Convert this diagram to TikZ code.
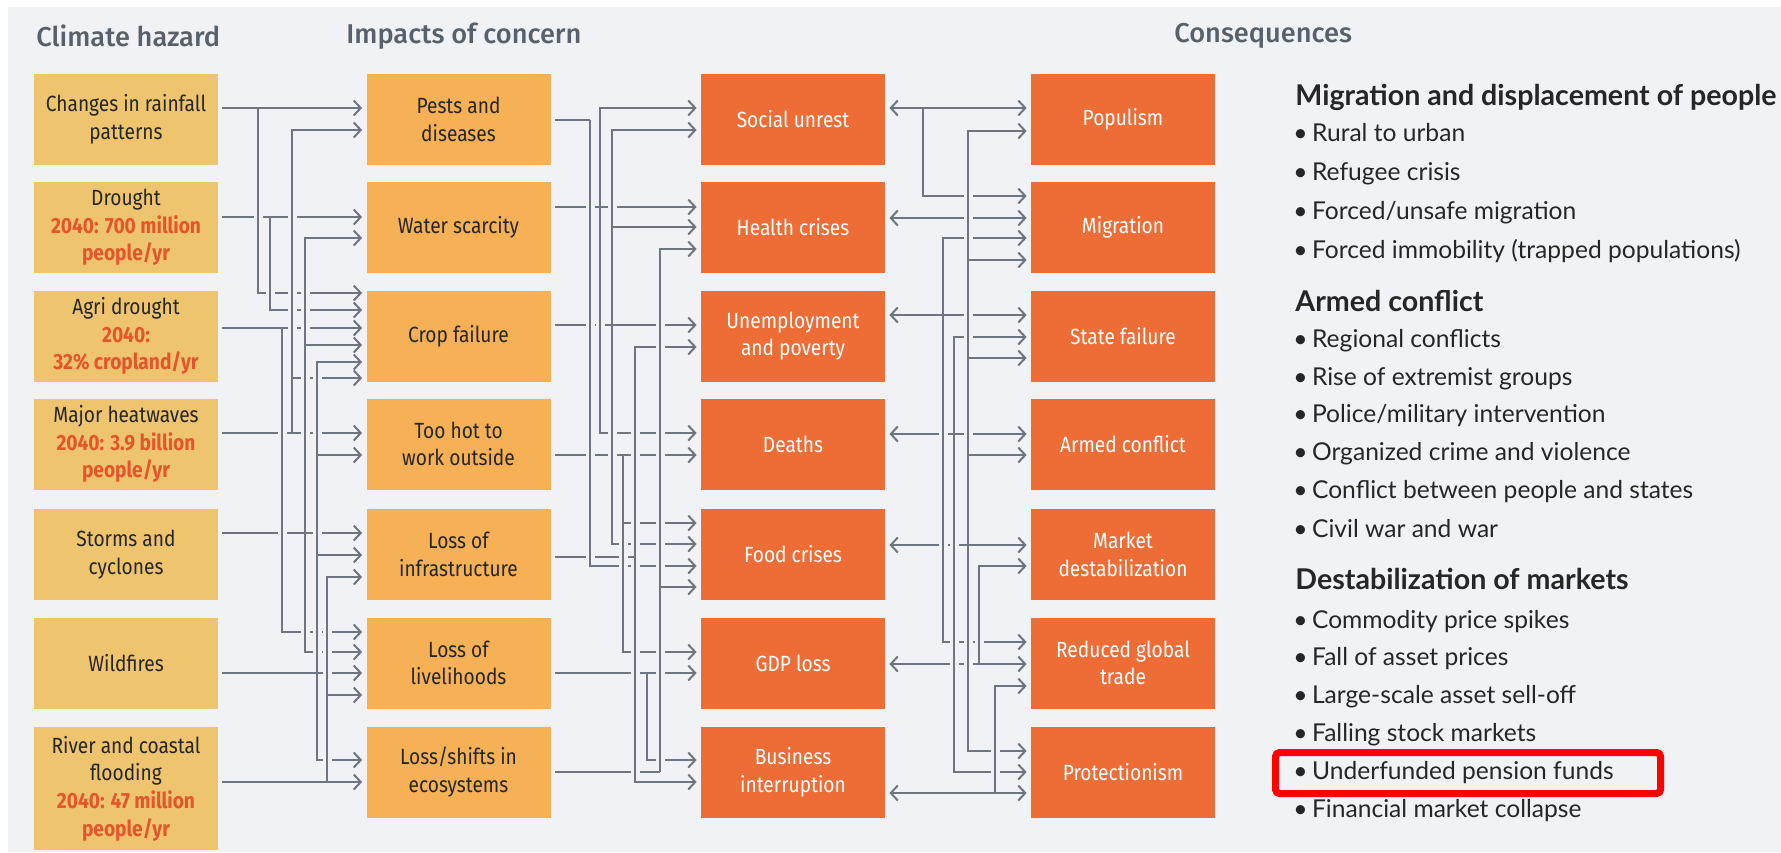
\documentclass[tikz,border=0pt]{standalone}
\usepackage{fontspec}
\usetikzlibrary{arrows.meta}
\setmainfont{Fira Sans}
\newfontfamily\boxfont[FakeStretch=0.87]{Fira Sans}
\newfontfamily\hdrfont{Fira Sans Medium}
\newfontfamily\listfont{Lato}
\definecolor{bgc}{HTML}{F1F2F5}
\definecolor{hzc}{HTML}{EFC46F}
\definecolor{impc}{HTML}{F6B156}
\definecolor{conc}{HTML}{EE6D36}
\definecolor{lnc}{HTML}{6E7580}
\definecolor{redtxt}{HTML}{E5552A}
\definecolor{hdrc}{HTML}{58606A}
\definecolor{txtc}{HTML}{262626}
\newcommand\halobus[2]{\foreach \yy [remember=\yy as \yp (initially -1)] in {#2}{\ifnum\yp>-1 \draw[halo] (#1,\yp+3) -- (#1,\yy-3);\fi}}
\newcommand\redrawbus[3]{\draw[ln] (#1,#2) -- (#1,#3);}
\newcommand\rt[1]{{\color{redtxt}\bfseries #1}}
\newcommand\bul{•\kern2.2pt}
\begin{document}
\begin{tikzpicture}[x=0.5pt,y=-0.5pt,
  box/.style={minimum width=92pt, minimum height=45.5pt, inner sep=0pt, align=center, font=\boxfont\fontsize{11}{13.8}\selectfont},
  hzbox/.style={box, fill=hzc, text=txtc},
  impbox/.style={box, fill=impc, text=txtc},
  conbox/.style={box, fill=conc, text=white},
  hdr/.style={anchor=west, inner sep=0pt, text=hdrc, font=\hdrfont\fontsize{13.6}{15}\selectfont},
  lhead/.style={anchor=west, inner sep=0pt, text=txtc, text height=9pt, text depth=3pt, font=\listfont\bfseries\fontsize{14.3}{16}\selectfont},
  litem/.style={anchor=west, inner sep=0pt, text=txtc, text height=8.5pt, text depth=3pt, font=\listfont\fontsize{12.3}{14}\selectfont},
  ln/.style={draw=lnc, line width=1pt},
  arr/.style={ln, -{Straight Barb[length=3.5pt,width=7.5pt,line width=1pt]}, shorten >=2pt},
  darr/.style={ln, {Straight Barb[length=3.5pt,width=7.5pt,line width=1pt]}-{Straight Barb[length=3.5pt,width=7.5pt,line width=1pt]}, shorten >=2pt, shorten <=2pt},
  sh/.style={shorten <=2pt},
  halo/.style={draw=bgc, line width=4.5pt}
]
\useasboundingbox (0,0) rectangle (1781,852);
\fill[white] (0,0) rectangle (1781,852);
\fill[bgc] (8,7) rectangle (1781,852);

% headers
\node[hdr] (t1) at (36,36) {Climate hazard};
\node[hdr] (t2) at (346,36) {Impacts of concern};
\node[hdr] (t3) at (1174,36) {Consequences};

% climate hazards
\node[hzbox] (h1) at (126,119.5) {Changes in rainfall\\patterns};
\node[hzbox] (h2) at (126,227.5) {Drought\\\rt{2040: 700 million}\\\rt{people/yr}};
\node[hzbox] (h3) at (126,336) {Agri drought\\\rt{2040:}\\\rt{32\% cropland/yr}};
\node[hzbox] (h4) at (126,444) {Major heatwaves\\\rt{2040: 3.9 billion}\\\rt{people/yr}};
\node[hzbox] (h5) at (126,554.5) {Storms and\\cyclones};
\node[hzbox] (h6) at (126,663) {Wildfires};
\node[hzbox, minimum height=61.5pt] (h7) at (126,788.5) {River and coastal\\flooding\\\rt{2040: 47 million}\\\rt{people/yr}};

% impacts
\node[impbox] (i1) at (458.5,119.5) {Pests and\\diseases};
\node[impbox] (i2) at (458.5,227.5) {Water scarcity};
\node[impbox] (i3) at (458.5,336) {Crop failure};
\node[impbox] (i4) at (458.5,444) {Too hot to\\work outside};
\node[impbox] (i5) at (458.5,554.5) {Loss of\\infrastructure};
\node[impbox] (i6) at (458.5,663) {Loss of\\livelihoods};
\node[impbox] (i7) at (458.5,772) {Loss/shifts in\\ecosystems};

% consequences 1
\node[conbox] (c1) at (793,119.5) {Social unrest};
\node[conbox] (c2) at (793,227.5) {Health crises};
\node[conbox] (c3) at (793,336) {Unemployment\\and poverty};
\node[conbox] (c4) at (793,444) {Deaths};
\node[conbox] (c5) at (793,554.5) {Food crises};
\node[conbox] (c6) at (793,663) {GDP loss};
\node[conbox] (c7) at (793,772) {Business\\interruption};

% consequences 2
\node[conbox] (k1) at (1123,119.5) {Populism};
\node[conbox] (k2) at (1123,227.5) {Migration};
\node[conbox] (k3) at (1123,336) {State failure};
\node[conbox] (k4) at (1123,444) {Armed conflict};
\node[conbox] (k5) at (1123,554.5) {Market\\destabilization};
\node[conbox] (k6) at (1123,663) {Reduced global\\trade};
\node[conbox] (k7) at (1123,772) {Protectionism};

% ---------- channel 1 ----------
\draw[arr,sh] (h1.east|-0,108) -- (i1.west|-0,108);
\draw[arr,sh] (h2.east|-0,217) -- (i2.west|-0,217);
\draw[arr,sh] (h3.east|-0,328) -- (i3.west|-0,328);
\draw[arr,sh] (h4.east|-0,433) -- (i4.west|-0,433);
\draw[arr,sh] (h5.east|-0,533) -- (i5.west|-0,533);
\draw[arr,sh] (h6.east|-0,673) -- (i6.west|-0,673);
\draw[arr,sh] (h7.east|-0,782) -- (i7.west|-0,782);
\coordinate (A1) at (258,108);
\coordinate (A2) at (270,217);
\coordinate (A3) at (282,328);
\coordinate (A4) at (292,433);
\coordinate (A5) at (305,533);
\coordinate (A6) at (317,673);
\coordinate (A7) at (327,782);
\draw[arr] (A1) |- (i3.west|-0,293);
\draw[arr] (A2) |- (i3.west|-0,310);
\draw[arr] (A3) |- (i6.west|-0,632);
\draw[arr] (A4) |- (i1.west|-0,130);
\draw[arr] (A4) |- (i3.west|-0,378);
\draw[arr] (A5) |- (i2.west|-0,238);
\draw[arr] (A5) |- (i3.west|-0,345);
\draw[arr] (A5) |- (i6.west|-0,652);
\draw[arr] (A6) |- (i3.west|-0,362);
\draw[arr] (A6) |- (i4.west|-0,455);
\draw[arr] (A6) |- (i5.west|-0,555);
\draw[arr] (A6) |- (i7.west|-0,760);
\draw[arr] (A7) |- (i5.west|-0,577);
\draw[arr] (A7) |- (i6.west|-0,695);

% ---------- channel 2 ----------
\draw[arr,sh] (i2.east|-0,207) -- (c2.west|-0,207);
\draw[arr,sh] (i3.east|-0,325) -- (c3.west|-0,325);
\draw[arr,sh] (i4.east|-0,455) -- (c4.west|-0,455);
\draw[arr,sh] (i6.east|-0,673) -- (c6.west|-0,673);
\coordinate (D1) at (590,120);
\coordinate (D2) at (600,207);
\coordinate (D3) at (612,325);
\coordinate (D4) at (623,455);
\coordinate (D5) at (635,557);
\coordinate (D6) at (647,673);
\coordinate (D7) at (660,772);
\draw[ln,sh] (i1.east|-D1) -- (D1);
\draw[ln,sh] (i5.east|-D5) -- (D5);
\draw[ln,sh] (i7.east|-D7) -- (D7);
\draw[arr] (D1) |- (c5.west|-0,566);
\draw[arr] (D2) |- (c1.west|-0,108);
\draw[arr] (D2) |- (c4.west|-0,433);
\draw[arr] (D3) |- (c1.west|-0,130);
\draw[arr] (D3) |- (c2.west|-0,227);
\draw[arr] (D3) |- (c5.west|-0,544);
\draw[arr] (D4) |- (c5.west|-0,523);
\draw[arr] (D4) |- (c6.west|-0,652);
\draw[arr] (D5) |- (c3.west|-0,347);
\draw[arr] (D5) |- (c7.west|-0,782);
\draw[arr] (D6) |- (c7.west|-0,760);
\draw[arr] (D7) |- (c2.west|-0,249);
\draw[arr] (D7) |- (c5.west|-0,587);

% ---------- channel 3 ----------
\draw[darr] (c1.east|-0,108) -- (k1.west|-0,108);
\draw[darr] (c2.east|-0,218) -- (k2.west|-0,218);
\draw[darr] (c3.east|-0,315) -- (k3.west|-0,315);
\draw[darr] (c4.east|-0,434) -- (k4.west|-0,434);
\draw[darr] (c5.east|-0,545) -- (k5.west|-0,545);
\draw[darr] (c6.east|-0,664) -- (k6.west|-0,664);
\draw[darr] (c7.east|-0,793) -- (k7.west|-0,793);
\coordinate (E1) at (923,108);
\coordinate (E2) at (943,315);
\coordinate (E3) at (954,434);
\coordinate (E4) at (968,545);
\coordinate (E5) at (979,664);
\coordinate (E6) at (995,793);
\draw[arr] (E1) |- (k2.west|-0,196);
\draw[arr] (E2) |- (k2.west|-0,238);
\draw[arr] (E2) |- (k6.west|-0,642);
\draw[arr] (E3) |- (k3.west|-0,337);
\draw[arr] (E3) |- (k7.west|-0,772);
\draw[arr] (E4) |- (k1.west|-0,131);
\draw[arr] (E4) |- (k2.west|-0,260);
\draw[arr] (E4) |- (k3.west|-0,358);
\draw[arr] (E4) |- (k4.west|-0,455);
\draw[arr] (E4) |- (k7.west|-0,751);
\draw[arr] (E5) |- (k5.west|-0,566);
\draw[arr] (E6) |- (k6.west|-0,686);

% ---------- crossing gaps ----------
\halobus{258}{108,293}
\halobus{270}{217,310}
\halobus{282}{328,632}
\halobus{292}{130,378,433}
\halobus{305}{238,345,533,652}
\halobus{317}{362,455,555,673,760}
\halobus{327}{577,695,782}
\halobus{590}{120,566}
\halobus{600}{108,207,433}
\halobus{612}{130,227,325,544}
\halobus{623}{455,523,652}
\halobus{635}{347,557,782}
\halobus{647}{673,760}
\halobus{660}{249,587,772}
\halobus{923}{108,196}
\halobus{943}{238,315,642}
\halobus{954}{337,434,772}
\halobus{968}{131,260,358,455,545,751}
\halobus{979}{566,664}
\halobus{995}{686,793}
\redrawbus{258}{108}{293}
\redrawbus{270}{217}{310}
\redrawbus{282}{328}{632}
\redrawbus{292}{130}{433}
\redrawbus{305}{238}{652}
\redrawbus{317}{362}{760}
\redrawbus{327}{577}{782}
\redrawbus{590}{120}{566}
\redrawbus{600}{108}{433}
\redrawbus{612}{130}{544}
\redrawbus{623}{455}{652}
\redrawbus{635}{347}{782}
\redrawbus{647}{673}{760}
\redrawbus{660}{249}{772}
\redrawbus{923}{108}{196}
\redrawbus{943}{238}{642}
\redrawbus{954}{337}{772}
\redrawbus{968}{131}{751}
\redrawbus{979}{566}{664}
\redrawbus{995}{686}{793}

% ---------- right-hand list ----------
\node[lhead] (g1) at (1295,99) {Migration and displacement of people};
\node[litem] (g1a) at (1293,136) {\bul Rural to urban};
\node[litem] (g1b) at (1293,175) {\bul Refugee crisis};
\node[litem] (g1c) at (1293,214) {\bul Forced/unsafe migration};
\node[litem] (g1d) at (1293,253) {\bul Forced immobility (trapped populations)};
\node[lhead] (g2) at (1295,305) {Armed conflict};
\node[litem] (g2a) at (1293,342) {\bul Regional conflicts};
\node[litem] (g2b) at (1293,380) {\bul Rise of extremist groups};
\node[litem] (g2c) at (1293,417) {\bul Police/military intervention};
\node[litem] (g2d) at (1293,455) {\bul Organized crime and violence};
\node[litem] (g2e) at (1293,493) {\bul Conflict between people and states};
\node[litem] (g2f) at (1293,532) {\bul Civil war and war};
\node[lhead] (g3) at (1295,583) {Destabilization of markets};
\node[litem] (g3a) at (1293,623) {\bul Commodity price spikes};
\node[litem] (g3b) at (1293,660) {\bul Fall of asset prices};
\node[litem] (g3c) at (1293,698) {\bul Large-scale asset sell-off};
\node[litem] (g3d) at (1293,736) {\bul Falling stock markets};
\node[litem] (g3e) at (1293,774) {\bul Underfunded pension funds};
\node[litem] (g3f) at (1293,812) {\bul Financial market collapse};
\draw[red, line width=3.5pt, rounded corners=2pt] (1275.5,752.5) rectangle (1660.5,793.5);
\end{tikzpicture}
\end{document}
